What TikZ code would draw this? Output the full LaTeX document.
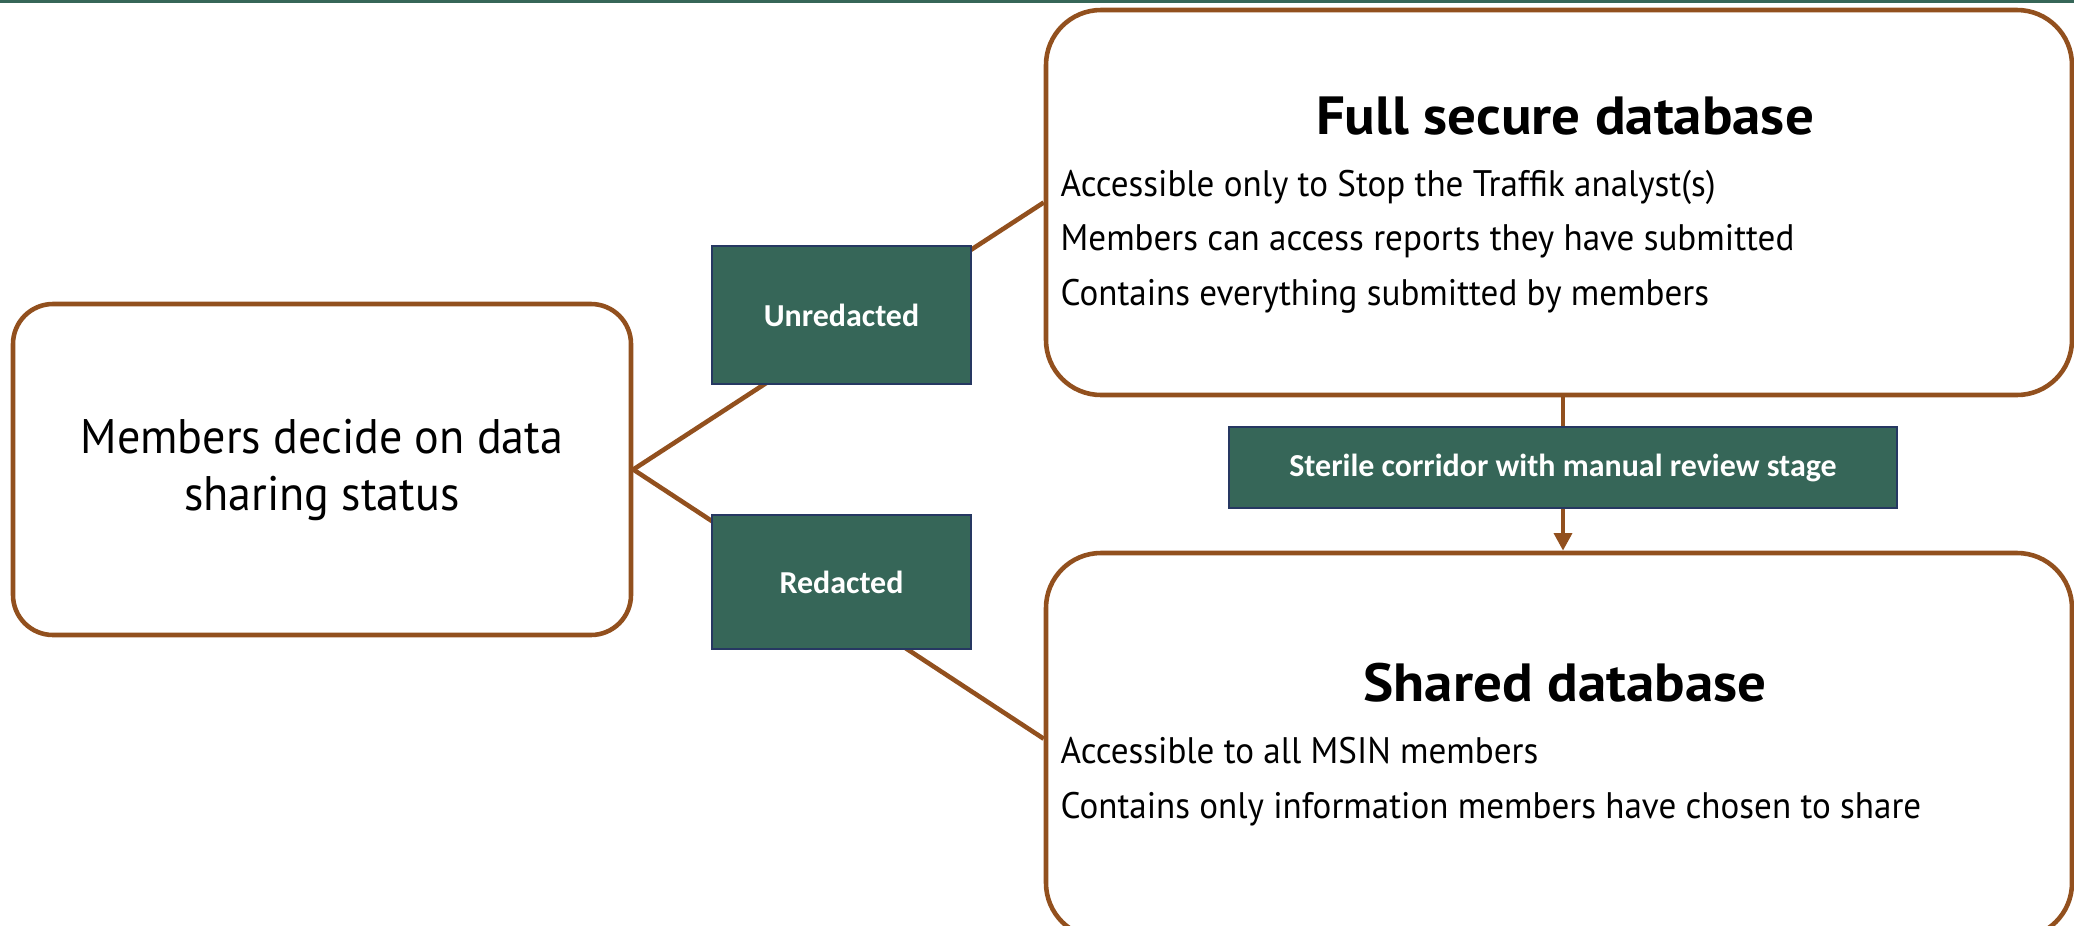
\documentclass[tikz,border=0pt]{standalone}
\usepackage{fontspec}
\setmainfont{Carlito}
\newfontfamily\gillfont[FakeStretch=0.95]{PT Sans}
\newfontfamily\gilltitle[FakeStretch=1.06]{PT Sans}
\usetikzlibrary{arrows.meta}
\definecolor{boxbrown}{RGB}{146,80,30}
\definecolor{tagteal}{RGB}{54,102,88}
\definecolor{tagnavy}{RGB}{38,56,98}
\pgfdeclarelayer{background}
\pgfsetlayers{background,main}
\tikzset{
    roundbox/.style={draw=boxbrown, line width=1.3pt, rounded corners=0.55cm, fill=white, inner sep=0pt},
    tagbox/.style={draw=tagnavy, line width=0.8pt, fill=tagteal, text=white, inner sep=0pt,
        font=\bfseries\fontsize{9.1}{11}\selectfont},
    link/.style={draw=boxbrown, line width=1.3pt},
    dbtitle/.style={font=\gilltitle\bfseries\fontsize{15.3}{18}\selectfont, anchor=base, inner sep=0pt},
    dbtext/.style={font=\gillfont\fontsize{10.5}{15.4}\selectfont, align=left, anchor=base west, inner sep=0pt},
}

\begin{document}
\begin{tikzpicture}
    \useasboundingbox (0,0) rectangle (20.74,-9.26);
    \clip (0,0) rectangle (20.74,-9.26);
    \fill[tagteal] (0,0) rectangle (20.74,-0.025);

    % decision and the two databases
    \node[roundbox, rounded corners=0.4cm, minimum width=6.18cm, minimum height=3.31cm, align=center,
        font=\gillfont\fontsize{13.8}{16.2}\selectfont] (decide) at (3.22,-4.695)
        {Members decide on data\\sharing status};
    \node[roundbox, minimum width=10.26cm, minimum height=3.85cm] (full) at (15.59,-2.025) {};
    \node[roundbox, minimum width=10.26cm, minimum height=3.85cm] (shared) at (15.59,-7.455) {};

    \node[dbtitle] (fulltitle) at (15.65,-1.34) {Full secure database};
    \node[dbtext] (fulltext) at (10.60,-3.05)
        {Accessible only to Stop the Traffik analyst(s)\\Members can access reports they have submitted\\Contains everything submitted by members};
    \node[dbtitle] (sharedtitle) at (15.65,-7.01) {Shared database};
    \node[dbtext] (sharedtext) at (10.60,-8.18)
        {Accessible to all MSIN members\\Contains only information members have chosen to share};

    % labels on the links
    \node[tagbox, minimum width=2.59cm, minimum height=1.38cm] (unred) at (8.415,-3.15) {Unredacted};
    \node[tagbox, minimum width=2.59cm, minimum height=1.34cm] (red) at (8.415,-5.82) {Redacted};
    \node[tagbox, minimum width=6.68cm, minimum height=0.81cm] (sterile) at (15.63,-4.675)
        {Sterile corridor with manual review stage};

    \coordinate (sharedin) at ([yshift=-1.88cm]shared.north west);
    \begin{pgfonlayer}{background}
        \draw[link] (decide.east) -- (full.west);
        \draw[link] (decide.east) -- (sharedin);
        \draw[link, -{Triangle[width=5pt,length=5pt]}] (full.south -| sterile) -- (shared.north -| sterile);
    \end{pgfonlayer}
\end{tikzpicture}
\end{document}
